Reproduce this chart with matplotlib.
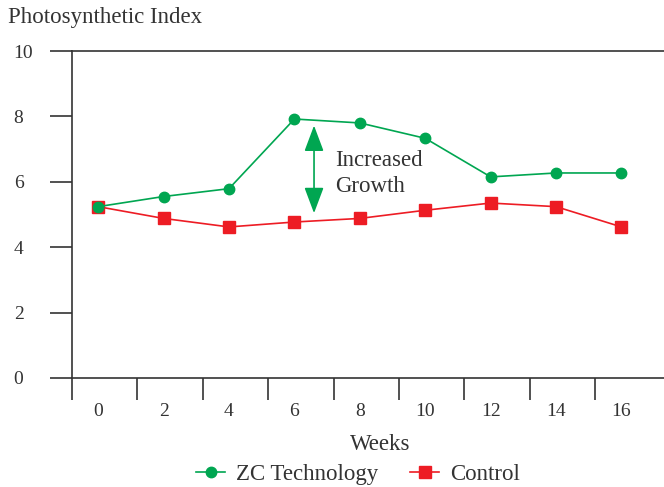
import numpy as np
import matplotlib.pyplot as plt

weeks = ["0", "2", "4", "6", "8", "10", "12", "14", "16"]
zc_technology = [5.24, 5.55, 5.79, 7.92, 7.80, 7.33, 6.15, 6.27, 6.27]
control = [5.24, 4.88, 4.62, 4.77, 4.88, 5.13, 5.35, 5.24, 4.62]
arrow_span = (5.04, 7.72)

green = "#00A651"
red = "#ED1C24"
ink = "#333333"

plt.rcParams["font.family"] = ["Liberation Serif", "DejaVu Serif"]

fig = plt.figure(figsize=(6.64, 4.87), dpi=100)
ax = fig.add_axes([72 / 664, 1 - 378 / 487, 592 / 664, 327 / 487])

x = np.arange(len(weeks))
ax.plot(x, zc_technology, color=green, lw=1.2, marker="o", ms=7.5,
        label="ZC Technology", zorder=3)
ax.plot(x, control, color=red, lw=1.2, marker="s", ms=8,
        label="Control", zorder=2)

# double arrow marking the gap
ax.annotate("", xy=(3.3, arrow_span[0]), xytext=(3.3, arrow_span[1]),
            arrowprops=dict(arrowstyle="<|-|>,head_length=0.8,head_width=0.3",
                            color=green, lw=1.2, mutation_scale=20,
                            shrinkA=0, shrinkB=0))
ax.text(3.63, 6.25, "Increased\nGrowth", fontsize=16.5, color=ink,
        va="center", ha="left", linespacing=1.3)

ax.set_xlim(-0.4, 8.65)
ax.set_ylim(0, 10)

ax.spines["right"].set_visible(False)
for s in ["left", "top", "bottom"]:
    ax.spines[s].set_color(ink)
    ax.spines[s].set_linewidth(1.2)

ax.set_yticks([0, 2, 4, 6, 8, 10])
ax.tick_params(axis="y", length=16, width=1.2, color=ink, labelsize=14,
               labelcolor=ink, pad=26)
for lab in ax.get_yticklabels():
    lab.set_horizontalalignment("left")

ax.set_xticks(x)
ax.set_xticklabels(weeks)
ax.set_xticks(np.arange(-0.4, 8.0, 1.0), minor=True)
ax.tick_params(axis="x", which="major", length=0, labelsize=14,
               labelcolor=ink, pad=18)
ax.tick_params(axis="x", which="minor", length=16, width=1.2, color=ink)

fig.text(8 / 664, 1 - 18 / 487, "Photosynthetic Index", fontsize=16.5,
         color=ink, ha="left", va="center")
fig.text(380 / 664, 1 - 445 / 487, "Weeks", fontsize=16.5, color=ink,
         ha="center", va="center")

fig.legend(loc="center", bbox_to_anchor=(358 / 664, 1 - 474 / 487), ncol=2,
           frameon=False, fontsize=16.5, handlelength=1.3, handletextpad=0.48,
           columnspacing=1.35, labelcolor=ink, borderpad=0)

fig.savefig("out.png", dpi=100)
